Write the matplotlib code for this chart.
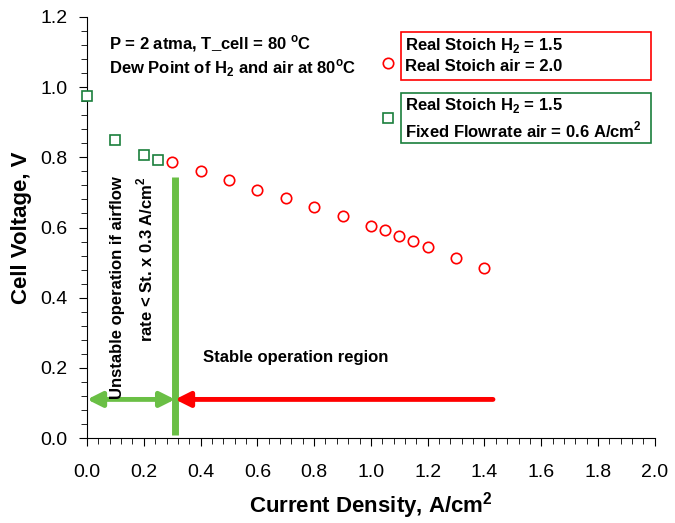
import matplotlib
matplotlib.use("Agg")
import matplotlib.pyplot as plt
from matplotlib.patches import Rectangle
from matplotlib.ticker import MultipleLocator

plt.rcParams['font.family'] = ['Liberation Sans', 'DejaVu Sans']
plt.rcParams['mathtext.fontset'] = 'custom'
plt.rcParams['mathtext.rm'] = 'Liberation Sans'
plt.rcParams['mathtext.bf'] = 'Liberation Sans:bold'

# fixed air flowrate (green squares)
fixed_i = [0.0, 0.1, 0.2, 0.25]
fixed_v = [0.974, 0.849, 0.806, 0.792]

# real stoich air (red circles)
stoich_i = [0.3, 0.4, 0.5, 0.6, 0.7, 0.8, 0.9, 1.0, 1.05, 1.1, 1.15, 1.2, 1.3, 1.4]
stoich_v = [0.786, 0.761, 0.735, 0.707, 0.684, 0.658, 0.632, 0.604, 0.593,
            0.575, 0.561, 0.544, 0.513, 0.484]

limit_i = 0.31
arrow_v = 0.11

GREEN = '#1a7f3c'
LIME = '#6abf45'
FS = 12

fig = plt.figure(figsize=(6.75, 5.23), dpi=100)
ax = fig.add_axes([0.129, 0.1625, 0.841, 0.805])

ax.plot(fixed_i, fixed_v, 's', ms=7, mfc='white', mec=GREEN, mew=1.2, clip_on=False, zorder=5)
ax.plot(stoich_i, stoich_v, 'o', ms=7.5, mfc='white', mec='red', mew=1.2, zorder=5)

# stability limit
ax.plot([limit_i, limit_i], [0.01, 0.745], color=LIME, lw=5, solid_capstyle='butt')
ax.annotate('', xy=(0.0, arrow_v), xytext=(limit_i, arrow_v),
            arrowprops=dict(arrowstyle='<|-|>', color=LIME, lw=3.5,
                            mutation_scale=22, shrinkA=0, shrinkB=0))
ax.annotate('', xy=(limit_i, arrow_v), xytext=(1.43, arrow_v),
            arrowprops=dict(arrowstyle='-|>', color='red', lw=3.5,
                            mutation_scale=22, shrinkA=0, shrinkB=0))

ax.text(0.16, 0.43, 'Unstable operation if airflow\nrate < St. x 0.3 A/cm$^\\mathbf{2}$',
        rotation=90, ha='center', va='center', multialignment='right',
        fontsize=FS, fontweight='bold', linespacing=1.55)
ax.text(0.41, 0.23, 'Stable operation region', fontsize=FS, fontweight='bold',
        ha='left', va='center')

ax.text(0.077, 1.125, 'P = 2 atma, T_cell = 80 $^{\\mathbf{o}}$C', fontsize=FS,
        fontweight='bold', va='center')
ax.text(0.077, 1.055, 'Dew Point of H$_\\mathbf{2}$ and air at 80$^{\\mathbf{o}}$C',
        fontsize=FS, fontweight='bold', va='center')

# legend-like boxes
ax.plot([1.06], [1.068], 'o', ms=7.5, mfc='white', mec='red', mew=1.2)
ax.plot([1.06], [0.912], 's', ms=7, mfc='white', mec=GREEN, mew=1.2)
ax.add_patch(Rectangle((1.106, 1.020), 0.88, 0.137, fill=False, ec='red', lw=1.2))
ax.add_patch(Rectangle((1.106, 0.840), 0.88, 0.143, fill=False, ec=GREEN, lw=1.2))
ax.text(1.12, 1.120, 'Real Stoich H$_\\mathbf{2}$ = 1.5', fontsize=FS, fontweight='bold', va='center')
ax.text(1.12, 1.060, 'Real Stoich air = 2.0', fontsize=FS, fontweight='bold', va='center')
ax.text(1.12, 0.949, 'Real Stoich H$_\\mathbf{2}$ = 1.5', fontsize=FS, fontweight='bold', va='center')
ax.text(1.12, 0.877, 'Fixed Flowrate air = 0.6 A/cm$^\\mathbf{2}$', fontsize=FS,
        fontweight='bold', va='center')

ax.set_xlim(0, 2.0)
ax.set_ylim(0, 1.2)
ax.xaxis.set_major_locator(MultipleLocator(0.2))
ax.xaxis.set_minor_locator(MultipleLocator(0.04))
ax.yaxis.set_major_locator(MultipleLocator(0.2))
ax.yaxis.set_minor_locator(MultipleLocator(0.04))
ax.xaxis.set_major_formatter(plt.FuncFormatter(lambda v, p: f'{v:.1f}'))
ax.yaxis.set_major_formatter(plt.FuncFormatter(lambda v, p: f'{v:.1f}'))
ax.tick_params(which='major', direction='out', length=6, labelsize=14)
ax.tick_params(which='minor', direction='out', length=4)
ax.tick_params(axis='x', which='major', pad=13)
ax.tick_params(axis='y', which='major', pad=8)
ax.spines['top'].set_visible(False)
ax.spines['right'].set_visible(False)

ax.set_xlabel('Current Density, A/cm$^\\mathbf{2}$', fontsize=16, fontweight='bold', labelpad=6)
ax.set_ylabel('Cell Voltage, V', fontsize=16, fontweight='bold', labelpad=6)

fig.savefig('out.png', dpi=100)
